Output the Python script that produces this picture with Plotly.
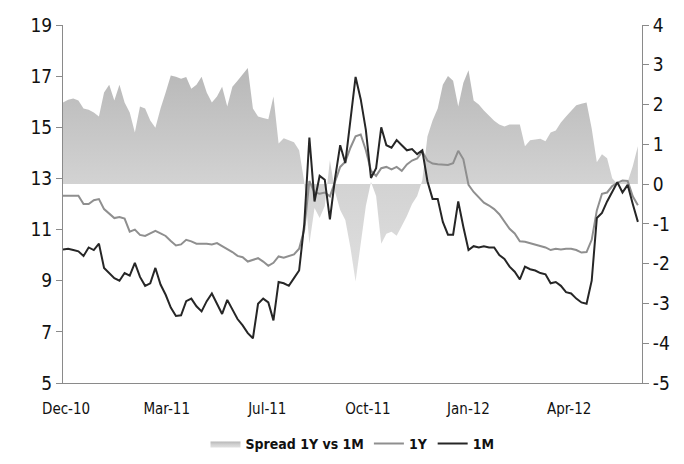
import pandas as pd
import plotly.graph_objects as go

# Sample dates (every 5 calendar days)
start_date = "2010-12-17"
n_points = 113

one_year = [12.32,12.32,12.32,12.32,12.0,12.0,12.15,12.19,11.8,11.62,
            11.45,11.49,11.43,10.92,11.0,10.79,10.75,10.85,10.95,10.85,
            10.75,10.55,10.38,10.42,10.6,10.54,10.45,10.45,10.45,10.42,
            10.47,10.35,10.25,10.12,9.97,9.92,9.75,9.8,9.88,9.75,
            9.58,9.7,9.95,9.9,9.95,10.03,10.25,11.0,12.9,12.45,
            12.4,12.45,12.3,12.9,13.45,13.65,14.2,14.65,14.72,14.1,
            13.3,13.1,13.4,13.45,13.35,13.45,13.3,13.55,13.7,13.78,
            14.05,13.7,13.58,13.55,13.53,13.53,13.6,14.08,13.75,12.75,
            12.47,12.26,12.05,11.94,11.8,11.6,11.3,11.03,10.85,10.54,
            10.52,10.47,10.42,10.35,10.3,10.2,10.25,10.22,10.25,10.25,
            10.2,10.1,10.12,10.6,11.75,12.4,12.45,12.7,12.83,12.92,
            12.9,12.3,11.95]

one_month = [10.22,10.25,10.2,10.15,9.97,10.3,10.2,10.45,9.5,9.3,
             9.1,9.0,9.3,9.2,9.7,9.15,8.8,8.9,9.5,8.85,
             8.45,7.95,7.62,7.65,8.2,8.3,8.0,7.8,8.2,8.5,
             8.1,7.7,8.25,7.85,7.5,7.25,6.95,6.75,8.1,8.3,
             8.15,7.45,8.95,8.9,8.8,9.1,9.4,11.2,14.6,12.1,
             13.1,12.95,11.4,13.0,14.3,13.6,15.3,16.97,16.1,14.9,
             13.02,13.4,15.0,14.3,14.2,14.5,14.3,14.1,14.15,13.95,
             14.1,12.89,12.2,12.2,11.3,10.8,10.8,12.1,11.1,10.2,
             10.35,10.3,10.35,10.3,10.3,10.0,9.85,9.55,9.35,9.05,
             9.55,9.45,9.4,9.3,9.25,8.9,8.95,8.8,8.55,8.5,
             8.3,8.15,8.1,9.0,11.45,11.65,12.1,12.5,12.85,12.45,
             12.75,12.0,11.3]

spread = [2.05,2.12,2.15,2.1,1.9,1.87,1.8,1.7,2.3,2.5,
          2.1,2.5,2.05,1.8,1.3,1.95,1.9,1.6,1.42,1.9,
          2.3,2.73,2.7,2.65,2.69,2.4,2.5,2.7,2.3,2.05,
          2.2,2.45,1.95,2.45,2.6,2.77,2.92,1.9,1.7,1.66,
          1.63,2.2,1.02,1.15,1.1,1.05,0.85,0.05,-1.5,-0.6,
          -0.85,-0.55,0.6,-0.2,-0.65,-0.9,-1.6,-2.45,-1.5,-0.55,
          0.05,-0.3,-1.5,-1.25,-1.2,-1.3,-1.05,-0.8,-0.5,-0.3,
          0.1,1.2,1.6,1.9,2.5,2.72,2.6,1.95,2.55,2.86,
          2.1,2.0,1.85,1.72,1.59,1.5,1.45,1.5,1.5,1.5,
          0.95,1.1,1.12,1.14,1.08,1.3,1.35,1.55,1.7,1.85,
          1.98,2.02,2.05,1.4,0.55,0.75,0.65,0.15,0.0,0.05,
          0.05,0.45,0.95]

tick_dates = ["2010-12-20", "2011-03-28", "2011-07-04", "2011-10-10", "2012-01-16", "2012-04-23"]
tick_labels = ["Dec-10", "Mar-11", "Jul-11", "Oct-11", "Jan-12", "Apr-12"]
left_ticks = [5, 7, 9, 11, 13, 15, 17, 19]
right_ticks = [-5, -4, -3, -2, -1, 0, 1, 2, 3, 4]

dates = pd.date_range(start_date, periods=n_points, freq="5D")

FONT = "DejaVu Sans Condensed, Liberation Sans Narrow, sans-serif"

fig = go.Figure()
fig.add_trace(go.Scatter(
    x=dates, y=spread, name="Spread 1Y vs 1M", mode="lines",
    line=dict(width=0, color="#c4c4c4"), fill="tozeroy",
    fillcolor="#c8c8c8",
    fillgradient=dict(type="vertical", start=-2.6, stop=3.1,
                      colorscale=[[0, "#e0e0e0"], [0.45, "#d3d3d3"], [1, "#b6b6b6"]]),
    yaxis="y", hoverinfo="skip"))
fig.add_trace(go.Scatter(
    x=dates, y=one_year, name="1Y", mode="lines",
    line=dict(color="#8f8f8f", width=2), yaxis="y2"))
fig.add_trace(go.Scatter(
    x=dates, y=one_month, name="1M", mode="lines",
    line=dict(color="#262626", width=2), yaxis="y2"))

axis_color = "#8a8a8a"
fig.update_layout(
    width=684, height=464,
    margin=dict(l=55, r=50, t=17, b=81),
    paper_bgcolor="white", plot_bgcolor="white",
    showlegend=True,
    legend=dict(orientation="h", x=0.5, xanchor="center", y=-0.17, yanchor="middle",
                font=dict(family=FONT, size=14, color="#111", weight="bold"),
                itemwidth=30, tracegroupgap=0,
                traceorder="normal"),
    xaxis=dict(type="date", range=["2010-12-17", "2012-07-03"],
               tickvals=tick_dates, ticktext=tick_labels,
               showline=True, linecolor=axis_color, linewidth=1,
               ticks="", showgrid=False, zeroline=False, automargin=False,
               ticklabelstandoff=12,
               tickfont=dict(family=FONT, size=15, color="#111")),
    yaxis=dict(side="right", range=[-5, 4],
               tickvals=right_ticks, ticktext=[str(v) for v in right_ticks],
               showline=True, linecolor=axis_color, linewidth=1,
               ticks="outside", ticklen=6, tickcolor=axis_color,
               showgrid=False, zeroline=False, automargin=False,
               tickfont=dict(family=FONT, size=19, color="#111")),
    yaxis2=dict(side="left", overlaying="y", range=[5, 19],
                tickvals=left_ticks, ticktext=[str(v) for v in left_ticks],
                showline=True, linecolor=axis_color, linewidth=1,
                ticks="outside", ticklen=6, tickcolor=axis_color,
                showgrid=False, zeroline=False, automargin=False,
                tickfont=dict(family=FONT, size=19, color="#111")),
)

fig.write_html("out.html")
